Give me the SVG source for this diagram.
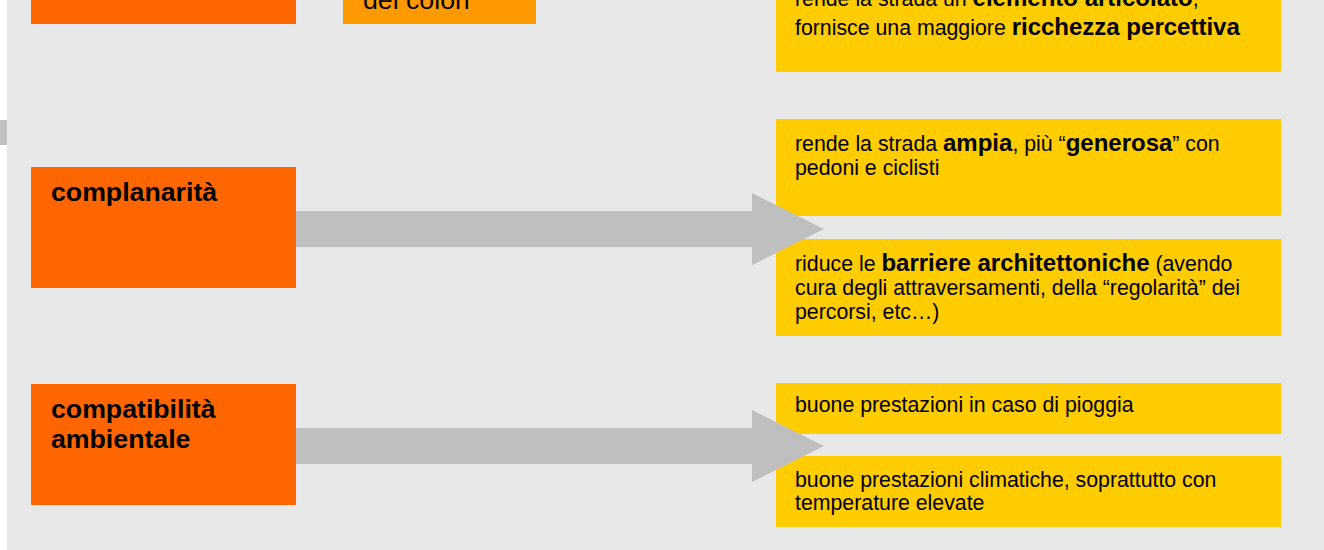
<svg xmlns="http://www.w3.org/2000/svg" width="1324" height="550" viewBox="0 0 1324 550">
<style>
.t{font-family:"Liberation Sans",Arial,sans-serif;fill:#000}
.r{font-size:21.3px}
.b{font-weight:bold;font-size:24px}
.h{font-weight:bold;font-size:26.7px}
.big{font-size:26.7px}
.main{fill:#FF6600}
.sub{fill:#FF9900}
.res{fill:#FFCC00}
.arr{fill:#BFBFBF}
</style>
<rect x="0" y="0" width="1324" height="550" fill="#FFFFFF"/>
<rect x="7" y="0" width="1317" height="550" fill="#E8E8E8"/>
<rect x="0" y="120" width="7" height="25" fill="#C0C0C0"/>

<g id="node-top-main"><rect class="main" x="31" y="-20" width="265" height="44"/></g>
<g id="node-top-colori"><rect class="sub" x="343" y="-20" width="193" height="44"/>
<text class="t big" x="363" y="9">del colori</text></g>
<g id="node-top-result"><rect class="res" x="776" y="-20" width="505" height="92"/>
<text class="t r" x="795" y="6">rende la strada un <tspan class="b">elemento articolato</tspan>,</text>
<text class="t r" x="795" y="35">fornisce una maggiore <tspan class="b">ricchezza percettiva</tspan></text></g>

<g id="node-complanarita"><rect class="main" x="31" y="167" width="265" height="121"/>
<text class="t h" x="51" y="201">complanarità</text></g>
<g id="node-ampia"><rect class="res" x="776" y="119" width="505" height="97"/>
<text class="t r" x="795" y="151">rende la strada <tspan class="b">ampia</tspan>, più “<tspan class="b">generosa</tspan>” con</text>
<text class="t r" x="795" y="175">pedoni e ciclisti</text></g>
<g id="node-barriere"><rect class="res" x="776" y="239" width="505" height="97"/>
<text class="t r" x="795" y="271">riduce le <tspan class="b">barriere architettoniche</tspan> (avendo</text>
<text class="t r" x="795" y="295">cura degli attraversamenti, della “regolarità” dei</text>
<text class="t r" x="795" y="319">percorsi, etc…)</text></g>

<g id="node-compatibilita"><rect class="main" x="31" y="384" width="265" height="121"/>
<text class="t h" x="51" y="418">compatibilità</text>
<text class="t h" x="51" y="448">ambientale</text></g>
<g id="node-pioggia"><rect class="res" x="776" y="383" width="505" height="51"/>
<text class="t r" x="795" y="412">buone prestazioni in caso di pioggia</text></g>
<g id="node-climatiche"><rect class="res" x="776" y="456" width="505" height="71"/>
<text class="t r" x="795" y="487">buone prestazioni climatiche, soprattutto con</text>
<text class="t r" x="795" y="510">temperature elevate</text></g>

<g id="connectors">
<polygon class="arr" points="296,211 752,211 752,193 824,229 752,265 752,247 296,247"/>
<polygon class="arr" points="296,428 752,428 752,410 824,446 752,482 752,464 296,464"/>
</g>
</svg>
